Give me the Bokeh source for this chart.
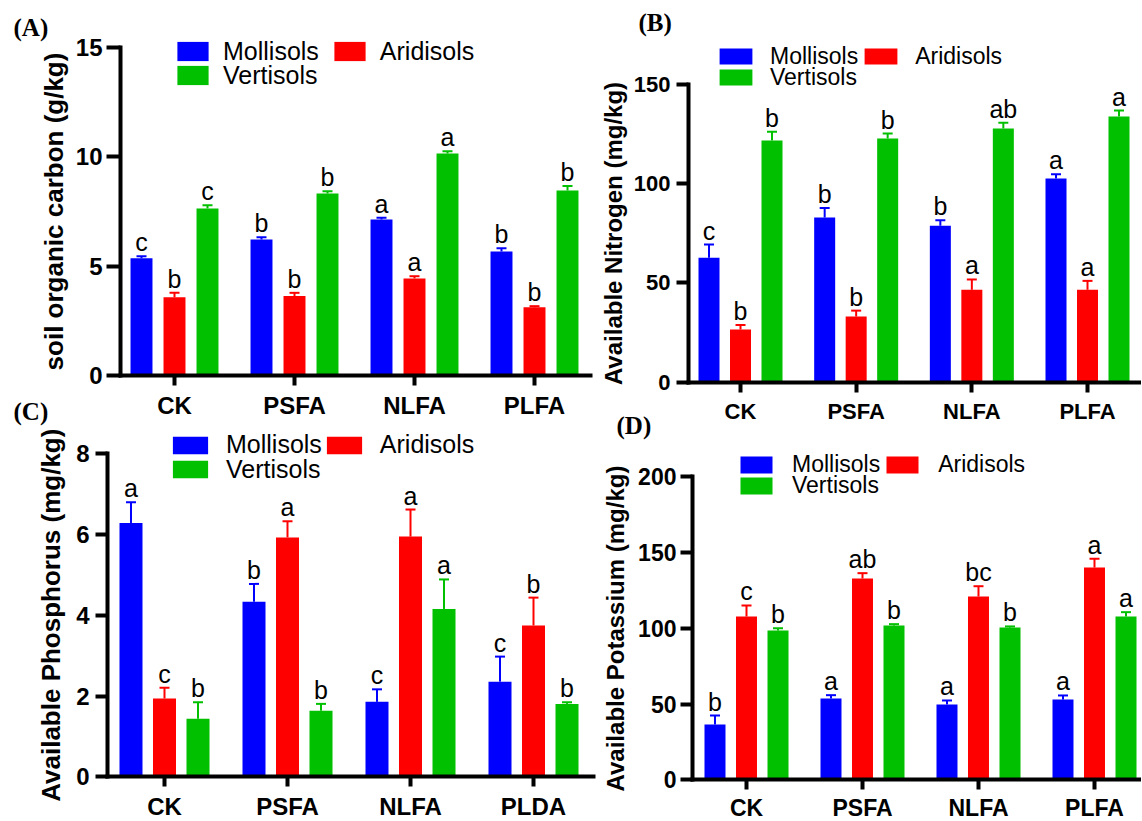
import math
import numpy as np
from bokeh.plotting import figure
from bokeh.models import (ColumnDataSource, Range1d, FixedTicker, Whisker, TeeHead,
                          Legend, LegendItem, Label)
from bokeh.layouts import row, column
from bokeh.embed import file_html
from bokeh.resources import INLINE
from bokeh.core.properties import value

# ---------------- data ----------------
treatments_abd = ["CK", "PSFA", "NLFA", "PLFA"]
treatments_c = ["CK", "PSFA", "NLFA", "PLDA"]
soils = ["Mollisols", "Aridisols", "Vertisols"]
soil_colors = ["#0000FF", "#FF0000", "#00C000"]

# (A) soil organic carbon (g/kg)
soc_mollisols = [5.36, 6.22, 7.13, 5.67]
soc_mollisols_err = [0.09, 0.10, 0.08, 0.15]
soc_aridisols = [3.58, 3.63, 4.44, 3.12]
soc_aridisols_err = [0.20, 0.15, 0.10, 0.05]
soc_vertisols = [7.64, 8.32, 10.15, 8.46]
soc_vertisols_err = [0.15, 0.10, 0.10, 0.20]
soc_letters_m = ["c", "b", "a", "b"]
soc_letters_a = ["b", "b", "a", "b"]
soc_letters_v = ["c", "b", "a", "b"]

# (B) available nitrogen (mg/kg)
an_mollisols = [62.6, 83.0, 78.8, 102.6]
an_mollisols_err = [6.7, 4.7, 2.8, 2.2]
an_aridisols = [26.5, 33.0, 46.5, 46.5]
an_aridisols_err = [2.3, 3.0, 5.2, 4.5]
an_vertisols = [121.8, 122.8, 127.8, 133.9]
an_vertisols_err = [4.4, 2.5, 3.0, 3.0]
an_letters_m = ["c", "b", "b", "a"]
an_letters_a = ["b", "b", "a", "a"]
an_letters_v = ["b", "b", "ab", "a"]

# (C) available phosphorus (mg/kg)
ap_mollisols = [6.29, 4.34, 1.86, 2.36]
ap_mollisols_err = [0.51, 0.44, 0.31, 0.62]
ap_aridisols = [1.94, 5.93, 5.95, 3.75]
ap_aridisols_err = [0.27, 0.40, 0.67, 0.69]
ap_vertisols = [1.44, 1.64, 4.16, 1.81]
ap_vertisols_err = [0.41, 0.17, 0.73, 0.04]
ap_letters_m = ["a", "b", "c", "c"]
ap_letters_a = ["c", "a", "a", "b"]
ap_letters_v = ["b", "b", "a", "b"]

# (D) available potassium (mg/kg)
ak_mollisols = [36.6, 53.7, 49.8, 53.0]
ak_mollisols_err = [5.9, 2.2, 2.6, 2.7]
ak_aridisols = [107.7, 132.8, 120.9, 140.0]
ak_aridisols_err = [7.3, 3.5, 6.8, 5.8]
ak_vertisols = [98.5, 101.8, 100.5, 107.7]
ak_vertisols_err = [1.5, 0.9, 0.7, 2.9]
ak_letters_m = ["b", "a", "a", "a"]
ak_letters_a = ["c", "ab", "bc", "a"]
ak_letters_v = ["b", "b", "b", "a"]

SANS = "Liberation Sans"
SERIF = "Liberation Serif"


def make_panel(cats, means, errs, letters, ylabel, yticks, cfg):
    p = figure(width=cfg["w"], height=cfg["h"],
               x_range=Range1d(*cfg["xr"]), y_range=Range1d(*cfg["yr"]),
               output_backend="svg", toolbar_location=None,
               min_border_left=0, min_border_right=0,
               min_border_top=0, min_border_bottom=0)
    p.outline_line_color = None
    p.xgrid.visible = False
    p.ygrid.visible = False
    p.background_fill_color = "white"
    p.border_fill_color = "white"

    idx = np.arange(len(cats))
    rends = []
    for k in range(3):
        col = soil_colors[k]
        top = np.array(means[k], dtype=float)
        hi = top + np.array(errs[k], dtype=float)
        src = ColumnDataSource(dict(x=idx + (k - 1) * cfg["pitch"], top=top, hi=hi,
                                    lab=letters[k]))
        r = p.vbar(x="x", top="top", bottom=0, width=cfg["bw"], source=src,
                   fill_color=col, line_color=None)
        rends.append(r)
        wk = Whisker(source=src, base="x", lower="top", upper="hi", dimension="height",
                     line_color=col, line_width=2,
                     upper_head=TeeHead(size=cfg["cap"], line_color=col, line_width=2),
                     lower_head=None)
        p.add_layout(wk)
        p.text(x="x", y="hi", text="lab", source=src, text_align="center",
               text_baseline="bottom", text_font=value(SANS),
               text_font_size=value(cfg["let_fs"]), text_color="black")

    x0, x1 = cfg["xb"]
    # x axis (drawn at y = 0)
    xa = p.xaxis[0]
    xa.fixed_location = 0
    xa.bounds = (x0, x1)
    xa.ticker = FixedTicker(ticks=list(range(len(cats))))
    xa.major_label_overrides = {i: c for i, c in enumerate(cats)}
    # y axis (drawn at the left end of the x axis)
    ya = p.yaxis[0]
    ya.fixed_location = x0
    ya.bounds = (yticks[0], yticks[-1])
    ya.ticker = FixedTicker(ticks=yticks)
    for ax in (xa, ya):
        ax.axis_line_width = 4
        ax.axis_line_color = "black"
        ax.axis_line_cap = "square"
        ax.major_tick_line_width = 4
        ax.major_tick_line_color = "black"
        ax.major_tick_in = 0
        ax.minor_tick_in = 0
        ax.minor_tick_out = 0
        ax.major_label_text_font = SANS
        ax.major_label_text_font_style = "bold"
        ax.major_label_text_color = "black"
    xa.major_tick_out = cfg["xto"]
    xa.major_label_standoff = cfg["xls"]
    xa.major_label_text_font_size = cfg["xfs"]
    ya.major_tick_out = cfg["yto"]
    ya.major_label_standoff = cfg["yls"]
    ya.major_label_text_font_size = cfg["yfs"]

    # y axis title (rotated)
    p.add_layout(Label(x=cfg["ylx"], y=cfg["yly"], x_units="screen", y_units="screen",
                       text=ylabel, angle=math.pi / 2, text_align="center",
                       text_baseline="middle", text_font=SANS,
                       text_font_style="bold", text_font_size=cfg["alfs"],
                       text_color="black"))

    # legends (two rows)
    common = dict(orientation="horizontal", glyph_width=cfg["gw"], glyph_height=cfg["gh"],
                  label_standoff=cfg["lst"], spacing=cfg["lsp"], padding=0, margin=0,
                  label_height=10, label_width=10,
                  label_text_font=SANS, label_text_font_size=cfg["lfs"],
                  label_text_color="black",
                  border_line_color=None, background_fill_alpha=0)
    leg1 = Legend(items=[LegendItem(label=soils[0], renderers=[rends[0]]),
                         LegendItem(label=soils[1], renderers=[rends[1]])],
                  location=(cfg["lx"], cfg["ly1"]), **common)
    leg2 = Legend(items=[LegendItem(label=soils[2], renderers=[rends[2]])],
                  location=(cfg["lx"], cfg["ly2"]), **common)
    p.add_layout(leg1)
    p.add_layout(leg2)

    # panel tags
    for (txt, lx, ly) in cfg["tags"]:
        p.add_layout(Label(x=lx, y=ly, x_units="screen", y_units="screen", text=txt,
                           text_font=SERIF, text_font_style="bold",
                           text_font_size="25px", text_baseline="middle",
                           text_color="black"))
    return p


cfgA = dict(w=600, h=428, xr=(-1.45, 3.55), yr=(-2.423, 17.147), xb=(-0.45, 3.467),
            bw=0.183, pitch=0.275, cap=10, let_fs="25px",
            xto=10, xls=6, xfs="24px", yto=14, yls=4, yfs="24px",
            ylx=53, yly=217, alfs="26px",
            gw=39, gh=24, lst=11, lsp=11, lfs="25px", lx=173, ly1=362.4, ly2=338.4,
            tags=[("(A)", 13, 401.2), ("(C)", 13, 17.2)])
cfgB = dict(w=541, h=445, xr=(-1.2104, 3.4668), yr=(-32.02, 192.39), xb=(-0.4496, 3.4755),
            bw=0.1816, pitch=0.2723, cap=10, let_fs="25px",
            xto=10, xls=7, xfs="22px", yto=12, yls=6, yfs="22px",
            ylx=13, yly=212, alfs="24px",
            gw=41, gh=20, lst=14, lsp=2, lfs="23px", lx=115, ly1=375.3, ly2=354.3,
            tags=[("(B)", 38, 422.7), ("(D)", 16, 19.7)])
cfgC = dict(w=600, h=393, xr=(-1.3333, 3.5447), yr=(-1.1015, 8.6262), xb=(-0.4634, 3.4878),
            bw=0.187, pitch=0.2724, cap=10, let_fs="25px",
            xto=10, xls=6, xfs="24px", yto=12, yls=6, yfs="24px",
            ylx=50, yly=206.3, alfs="26px",
            gw=44, gh=22, lst=14, lsp=0, lfs="25px", lx=168, ly1=361.9, ly2=337.5,
            tags=[])
cfgD = dict(w=541, h=376, xr=(-1.2586, 3.4052), yr=(-27.35, 220.43), xb=(-0.4655, 3.4138),
            bw=0.181, pitch=0.2716, cap=10, let_fs="25px",
            xto=10, xls=5, xfs="23px", yto=12, yls=4, yfs="23px",
            ylx=15, yly=193, alfs="24px",
            gw=40, gh=21, lst=16, lsp=2, lfs="23px", lx=136, ly1=343.4, ly2=322.1,
            tags=[])

pA = make_panel(treatments_abd,
                [soc_mollisols, soc_aridisols, soc_vertisols],
                [soc_mollisols_err, soc_aridisols_err, soc_vertisols_err],
                [soc_letters_m, soc_letters_a, soc_letters_v],
                "soil organic carbon (g/kg)", [0, 5, 10, 15], cfgA)
pB = make_panel(treatments_abd,
                [an_mollisols, an_aridisols, an_vertisols],
                [an_mollisols_err, an_aridisols_err, an_vertisols_err],
                [an_letters_m, an_letters_a, an_letters_v],
                "Available Nitrogen (mg/kg)", [0, 50, 100, 150], cfgB)
pC = make_panel(treatments_c,
                [ap_mollisols, ap_aridisols, ap_vertisols],
                [ap_mollisols_err, ap_aridisols_err, ap_vertisols_err],
                [ap_letters_m, ap_letters_a, ap_letters_v],
                "Available Phosphorus (mg/kg)", [0, 2, 4, 6, 8], cfgC)
pD = make_panel(treatments_abd,
                [ak_mollisols, ak_aridisols, ak_vertisols],
                [ak_mollisols_err, ak_aridisols_err, ak_vertisols_err],
                [ak_letters_m, ak_letters_a, ak_letters_v],
                "Available Potassium (mg/kg)", [0, 50, 100, 150, 200], cfgD)

layout = row(column(pA, pC, spacing=0), column(pB, pD, spacing=0), spacing=0)
open("out.html", "w").write(file_html(layout, INLINE, title="Soil properties"))
